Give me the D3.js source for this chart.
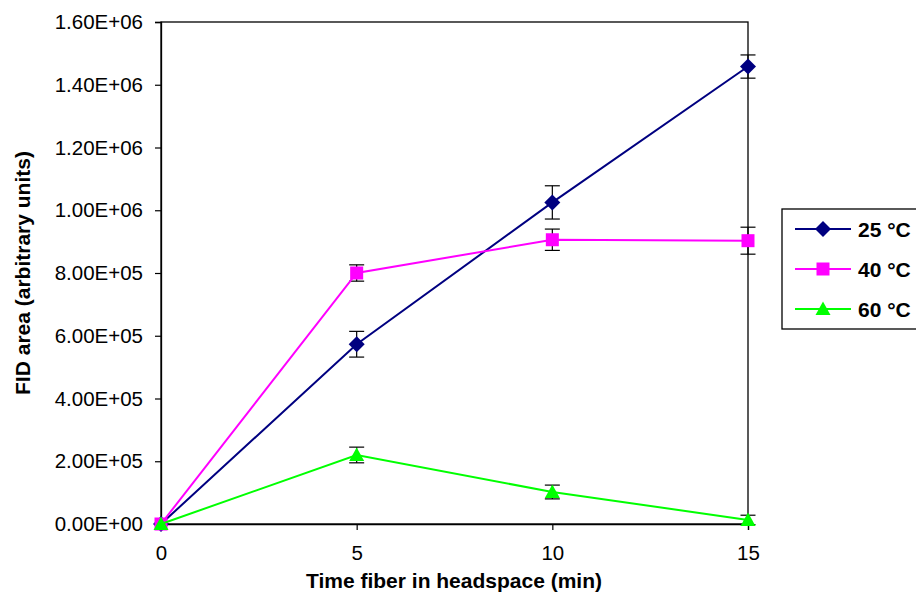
<!DOCTYPE html>
<html><head><meta charset="utf-8">
<script src="https://cdn.jsdelivr.net/npm/d3@7/dist/d3.min.js"></script>
<style>body{margin:0;background:#fff}svg{display:block;font-family:Arial,"Liberation Sans",sans-serif}</style>
</head><body>
<svg id="c" width="916" height="593"></svg>
<script>
const times = [0, 5, 10, 15];
const seriesNames = ["25 °C", "40 °C", "60 °C"];
const colors = ["#000080", "#FF00FF", "#00FF00"];
const symbols = ["diamond", "square", "triangle"];
const values25 = [0, 573000, 1025000, 1458000];
const errors25 = [0, 41000, 53000, 37000];
const values40 = [0, 800000, 906000, 903000];
const errors40 = [0, 26000, 34000, 43000];
const values60 = [0, 220000, 102000, 13000];
const errors60 = [0, 25000, 22000, 15000];
const yTicks = [0, 200000, 400000, 600000, 800000, 1000000, 1200000, 1400000, 1600000];
const xTicks = [0, 5, 10, 15];

const series = [
  {name: seriesNames[0], values: values25, errors: errors25},
  {name: seriesNames[1], values: values40, errors: errors40},
  {name: seriesNames[2], values: values60, errors: errors60}
];

const svg = d3.select("#c");
const L = 161, R = 748, T = 22, B = 524;
const x = d3.scaleLinear().domain([0, 15]).range([L, R]);
const y = d3.scaleLinear().domain([0, 1600000]).range([B, T]);
const FF = "Arial, 'Liberation Sans', sans-serif";

svg.append("rect").attr("x", L).attr("y", T).attr("width", R - L).attr("height", B - T)
  .attr("fill", "none").attr("stroke", "#000").attr("stroke-width", 1.3);

const fmt = v => {
  if (v === 0) return "0.00E+00";
  const e = Math.floor(Math.log10(v));
  const m = v / Math.pow(10, e);
  return m.toFixed(2) + "E+" + String(e).padStart(2, "0");
};

const yAxis = svg.append("g").attr("transform", `translate(${L},0)`)
  .call(d3.axisLeft(y).tickValues(yTicks).tickFormat(fmt).tickSize(6).tickPadding(12));
yAxis.select(".domain").attr("stroke-width", 1.3);
yAxis.selectAll(".tick line").attr("stroke-width", 1.2);
yAxis.selectAll("text").attr("font-size", 20.5).attr("fill", "#000").attr("font-family", FF);

const xAxis = svg.append("g").attr("transform", `translate(0,${B})`)
  .call(d3.axisBottom(x).tickValues(xTicks).tickFormat(d3.format("d")).tickSize(6).tickPadding(15));
xAxis.select(".domain").attr("stroke-width", 1.3);
xAxis.selectAll(".tick line").attr("stroke-width", 1.2);
xAxis.selectAll("text").attr("font-size", 20.5).attr("fill", "#000").attr("font-family", FF);

svg.append("text").attr("x", 454).attr("y", 588).attr("text-anchor", "middle")
  .attr("font-size", 21).attr("font-weight", "bold").text("Time fiber in headspace (min)");
svg.append("text").attr("transform", `translate(30,${(T + B) / 2}) rotate(-90)`).attr("text-anchor", "middle")
  .attr("font-size", 21).attr("font-weight", "bold").text("FID area (arbitrary units)");

const markerPath = {
  diamond: "M0,-8L8,0L0,8L-8,0Z",
  square: "M-6.5,-6.5H6.5V6.5H-6.5Z",
  triangle: "M0,-7.5L7.5,6L-7.5,6Z"
};

const line = d3.line().x((d, i) => x(times[i])).y(d => y(d));

series.forEach((s, si) => {
  const g = svg.append("g");
  s.values.forEach((v, i) => {
    const e = s.errors[i];
    if (!e) return;
    const cx = x(times[i]);
    g.append("line").attr("x1", cx).attr("x2", cx).attr("y1", y(v + e)).attr("y2", y(v - e)).attr("stroke", "#000").attr("stroke-width", 1.2);
    [v + e, v - e].forEach(w => g.append("line").attr("x1", cx - 7.5).attr("x2", cx + 7.5).attr("y1", y(w)).attr("y2", y(w)).attr("stroke", "#000").attr("stroke-width", 1.2));
  });
});
series.forEach((s, si) => {
  const g = svg.append("g");
  g.append("path").attr("d", line(s.values)).attr("fill", "none").attr("stroke", colors[si]).attr("stroke-width", 2);
  s.values.forEach((v, i) => {
    g.append("path").attr("d", markerPath[symbols[si]])
      .attr("transform", `translate(${x(times[i])},${y(v)})`).attr("fill", colors[si]);
  });
});

const lg = svg.append("g");
lg.append("rect").attr("x", 782).attr("y", 209).attr("width", 150).attr("height", 120)
  .attr("fill", "#fff").attr("stroke", "#000").attr("stroke-width", 1.3);
series.forEach((s, si) => {
  const yy = 229 + si * 40;
  lg.append("line").attr("x1", 795).attr("x2", 851).attr("y1", yy).attr("y2", yy).attr("stroke", colors[si]).attr("stroke-width", 2);
  lg.append("path").attr("d", markerPath[symbols[si]])
    .attr("transform", `translate(823,${yy})`).attr("fill", colors[si]);
  lg.append("text").attr("x", 858).attr("y", yy + 7.5).attr("font-size", 21).attr("font-weight", "bold").text(s.name);
});
</script>
</body></html>
